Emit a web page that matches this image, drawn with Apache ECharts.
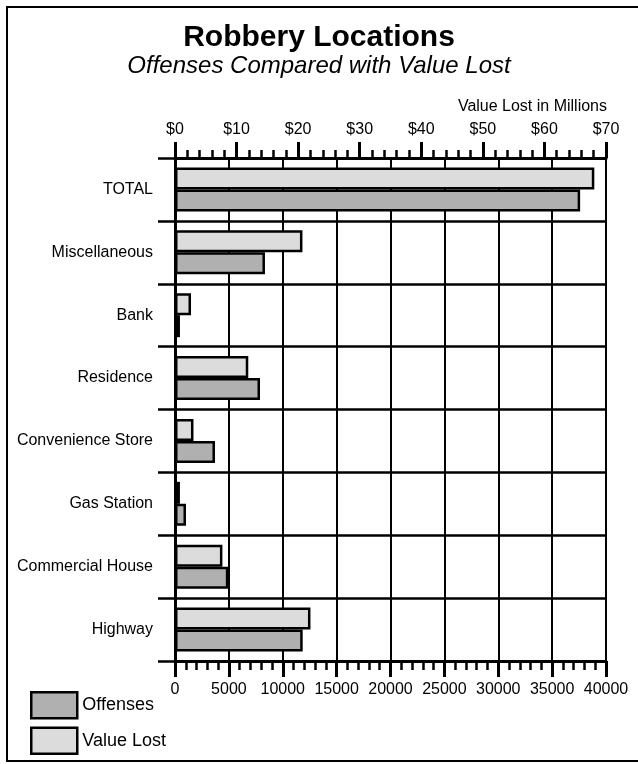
<!DOCTYPE html>
<html>
<head>
<meta charset="utf-8">
<title>Robbery Locations</title>
<script src="https://cdn.jsdelivr.net/npm/echarts@6/dist/echarts.min.js"></script>
<style>
    html, body { margin: 0; padding: 0; background: #fff; }
    #chart { width: 638px; height: 764px; }
</style>
</head>
<body>
<div id="chart"></div>
<script>
var categories = ['TOTAL', 'Miscellaneous', 'Bank', 'Residence', 'Convenience Store',
    'Gas Station', 'Commercial House', 'Highway'];
// value lost, millions of dollars (top axis)
var valueLost = [68.1, 20.7, 2.6, 11.9, 3.0, 0.8, 7.7, 22.0];
// number of offenses (bottom axis)
var offenses = [37600, 8350, 460, 7890, 3710, 1020, 4950, 11850];
var offenseTicks = [0, 5000, 10000, 15000, 20000, 25000, 30000, 35000, 40000];
var valueTicks = ['$0', '$10', '$20', '$30', '$40', '$50', '$60', '$70'];

var FONT = 'Liberation Sans, Arial, sans-serif';
var lightFill = '#dcdcdc';
var darkFill = '#b0b0b0';

var chart = echarts.init(document.getElementById('chart'), null, {renderer: 'canvas'});

var option = {
    animation: false,
    backgroundColor: '#fff',
    textStyle: {fontFamily: FONT, color: '#000'},
    title: {
        left: 'center',
        top: 18,
        itemGap: 1,
        text: 'Robbery Locations',
        subtext: 'Offenses Compared with Value Lost',
        textStyle: {fontFamily: FONT, fontSize: 30, fontWeight: 'bold', color: '#000'},
        subtextStyle: {fontFamily: FONT, fontSize: 24, fontStyle: 'italic', color: '#000'}
    },
    legend: {
        orient: 'vertical',
        left: 25,
        top: 686,
        itemWidth: 46,
        itemHeight: 26,
        itemGap: 7,
        icon: 'rect',
        data: ['Offenses', 'Value Lost'],
        textStyle: {fontFamily: FONT, fontSize: 18, color: '#000'},
        itemStyle: {borderColor: '#000', borderWidth: 2.5}
    },
    grid: {
        left: 175,
        right: 32,
        top: 158,
        bottom: 103
    },
    xAxis: [{
        // offenses
        type: 'value',
        position: 'bottom',
        min: 0,
        max: 40000,
        interval: 5000,
        axisLine: {show: true, lineStyle: {color: '#000', width: 3}},
        axisTick: {show: true, length: 16, lineStyle: {color: '#000', width: 3}},
        minorTick: {show: true, splitNumber: 5, length: 9, lineStyle: {color: '#000', width: 2.5}},
        splitLine: {show: true, lineStyle: {color: '#000', width: 2}},
        axisLabel: {
            margin: 21,
            fontSize: 16,
            fontFamily: FONT,
            color: '#000',
            formatter: function (v) {
                return offenseTicks.indexOf(v) >= 0 ? String(v) : '';
            }
        }
    }, {
        // value lost
        type: 'value',
        position: 'top',
        min: 0,
        max: 70,
        interval: 10,
        axisLine: {show: true, lineStyle: {color: '#000', width: 3}},
        axisTick: {show: true, length: 16, lineStyle: {color: '#000', width: 3}},
        minorTick: {show: true, splitNumber: 5, length: 8, lineStyle: {color: '#000', width: 2.5}},
        splitLine: {show: false},
        axisLabel: {
            margin: 20,
            fontSize: 16,
            fontFamily: FONT,
            color: '#000',
            formatter: function (v) {
                return valueTicks[Math.round(v / 10)];
            }
        }
    }],
    yAxis: {
        type: 'category',
        inverse: true,
        data: categories,
        axisLine: {show: true, lineStyle: {color: '#000', width: 3}},
        axisTick: {show: true, length: 17, lineStyle: {color: '#000', width: 2.5}},
        splitLine: {show: true, lineStyle: {color: '#000', width: 2.5}},
        axisLabel: {margin: 22, fontSize: 16, fontFamily: FONT, color: '#000'}
    },
    series: [{
        name: 'Value Lost',
        type: 'bar',
        xAxisIndex: 1,
        barWidth: 22,
        barGap: '0%',
        itemStyle: {color: lightFill, borderColor: '#000', borderWidth: 2.5},
        data: valueLost
    }, {
        name: 'Offenses',
        type: 'bar',
        xAxisIndex: 0,
        barWidth: 22,
        barGap: '0%',
        itemStyle: {color: darkFill, borderColor: '#000', borderWidth: 2.5},
        data: offenses
    }],
    graphic: [{
        type: 'rect',
        silent: true,
        shape: {x: 7, y: 7, width: 640, height: 754},
        style: {fill: 'none', stroke: '#000', lineWidth: 2}
    }, {
        type: 'text',
        right: 31,
        top: 99,
        style: {text: 'Value Lost in Millions', font: '16px ' + FONT, fill: '#000'}
    }]
};

chart.setOption(option);
</script>
</body>
</html>
